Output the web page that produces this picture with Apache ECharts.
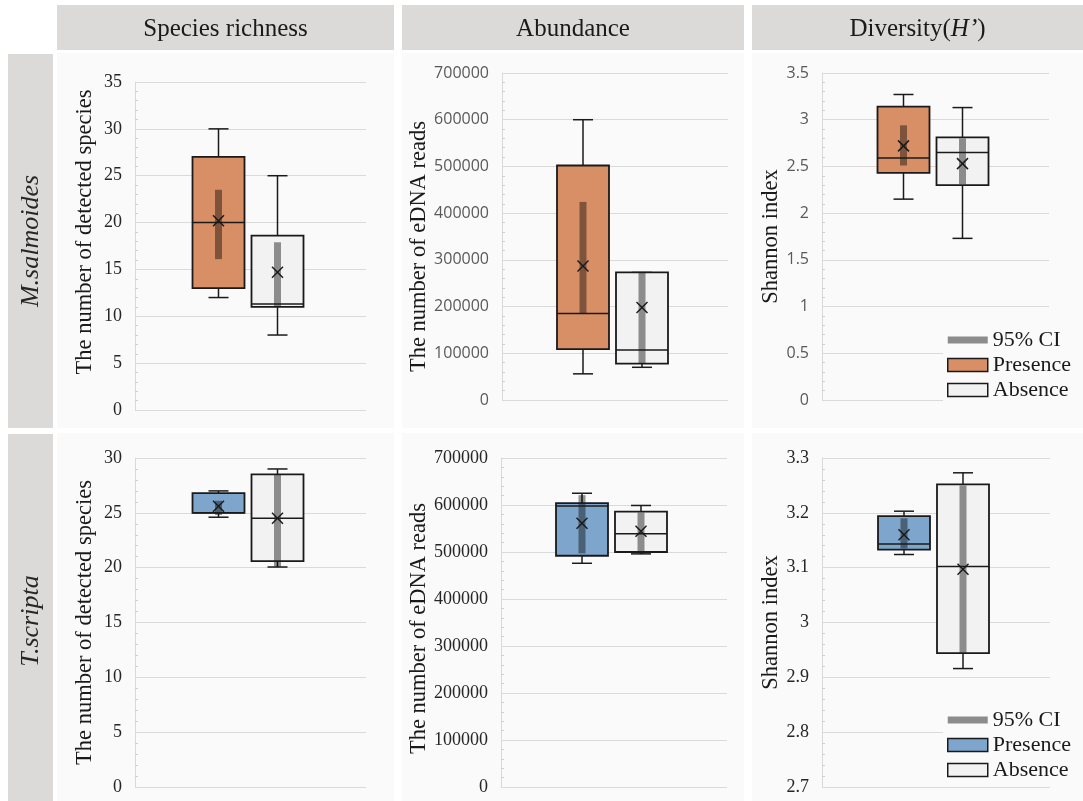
<!DOCTYPE html>
<html><head><meta charset="utf-8">
<script src="https://cdn.jsdelivr.net/npm/echarts@6/dist/echarts.min.js"></script>
<style>html,body{margin:0;padding:0;background:#fff}#c{width:1083px;height:801px}</style>
</head><body><div id="c"></div><script>
// ---------- data ----------
const columnTitles = ['Species richness', 'Abundance', 'Diversity('];
const rowTitles = ['M.salmoides', 'T.scripta'];
const groupNames = ['Presence', 'Absence'];
const ciName = '95% CI';
const yAxisNames = ['The number of detected species', 'The number of eDNA reads', 'Shannon index'];

// box statistics: [min, Q1, median, Q3, max]
const msRichnessPresence = [12, 13, 20, 27, 30];
const msRichnessAbsence  = [8, 11, 11.3, 18.6, 25];
const msRichnessMean = [20.2, 14.7];
const msRichnessCI   = [[16.1, 23.5], [11.1, 17.9]];

const msAbundancePresence = [56000, 109000, 185000, 502000, 600000];
const msAbundanceAbsence  = [70000, 78000, 107000, 273000, 273000];
const msAbundanceMean = [287000, 198000];
const msAbundanceCI   = [[185000, 424000], [78000, 273000]];

const msDiversityPresence = [2.15, 2.43, 2.59, 3.14, 3.27];
const msDiversityAbsence  = [1.73, 2.30, 2.65, 2.81, 3.13];
const msDiversityMean = [2.72, 2.53];
const msDiversityCI   = [[2.51, 2.94], [2.31, 2.80]];

const tsRichnessPresence = [24.6, 25, 25, 26.8, 27];
const tsRichnessAbsence  = [20.06, 20.6, 24.5, 28.5, 29.0];
const tsRichnessMean = [25.6, 24.5];
const tsRichnessCI   = [[24.8, 26.1], [20.1, 28.5]];

const tsAbundancePresence = [476000, 492000, 598000, 604000, 625000];
const tsAbundanceAbsence  = [496000, 500000, 539000, 586000, 599000];
const tsAbundanceMean = [561000, 544000];
const tsAbundanceCI   = [[497000, 621000], [497000, 584000]];

const tsDiversityPresence = [3.124, 3.133, 3.143, 3.194, 3.203];
const tsDiversityAbsence  = [2.916, 2.944, 3.102, 3.252, 3.273];
const tsDiversityMean = [3.160, 3.097];
const tsDiversityCI   = [[3.135, 3.19], [2.945, 3.25]];

// axis ranges / tick steps per panel (row-major)
const yMins      = [0, 0, 0, 0, 0, 2.7];
const yMaxs      = [35, 700000, 3.5, 30, 700000, 3.3];
const yIntervals = [5, 100000, 0.5, 5, 100000, 0.1];

// ---------- layout / style ----------
const panelStats = [
  [msRichnessPresence, msRichnessAbsence, msRichnessMean, msRichnessCI],
  [msAbundancePresence, msAbundanceAbsence, msAbundanceMean, msAbundanceCI],
  [msDiversityPresence, msDiversityAbsence, msDiversityMean, msDiversityCI],
  [tsRichnessPresence, tsRichnessAbsence, tsRichnessMean, tsRichnessCI],
  [tsAbundancePresence, tsAbundanceAbsence, tsAbundanceMean, tsAbundanceCI],
  [tsDiversityPresence, tsDiversityAbsence, tsDiversityMean, tsDiversityCI]
];
const grids = [
  {left: 135, top: 82, width: 231, height: 328},
  {left: 502, top: 73, width: 226, height: 327},
  {left: 822, top: 73, width: 227, height: 327},
  {left: 135, top: 458, width: 231, height: 329},
  {left: 501, top: 458, width: 226, height: 329},
  {left: 822, top: 458, width: 228, height: 329}
];
const presenceColors = ['#D98F66', '#7EA6CC'];
const absenceColor = '#F2F2F2';
const ink = '#1a1a1a';
const serif = '"Liberation Serif", "Times New Roman", serif';
const sans = '"Open Sans", "Noto Sans", sans-serif';
const boxOffsets = [-32, 27];
const labelFonts = [serif, sans, sans, serif, serif, serif];
const labelColors = ['#262626', '#595959', '#595959', '#262626', '#262626', '#262626'];
const labelSizes = [18, 16, 16, 18, 18, 18];
const namePads = [[0,0,0,28], [0,20,0,0], [0,0,0,0], [0,0,0,0], [0,12,0,0], [0,0,0,0]];

function renderBox(g) {
  return function (params, api) {
    const cat = api.value(0);
    const cx = api.coord([cat, api.value(1)])[0] + boxOffsets[g];
    const y = i => api.coord([cat, api.value(i)])[1];
    const yMin = y(1), yQ1 = y(2), yMed = y(3), yQ3 = y(4), yMax = y(5), yMean = y(6), yCiLo = y(7), yCiHi = y(8);
    const hw = 26, cap = 10, ms = 5.5, ciw = 3.5;
    const fill = api.visual('color');
    const ln = {stroke: ink, lineWidth: 1.5};
    const L = (x1, y1, x2, y2, st) => ({type: 'line', shape: {x1, y1, x2, y2}, style: st || ln});
    const children = [
      L(cx, yMax, cx, yQ3), L(cx - cap, yMax, cx + cap, yMax),
      L(cx, yQ1, cx, yMin), L(cx - cap, yMin, cx + cap, yMin),
      {type: 'rect', shape: {x: cx - hw, y: yQ3, width: 2 * hw, height: yQ1 - yQ3}, style: {fill: fill}},
      {type: 'rect', shape: {x: cx - ciw, y: yCiHi, width: 2 * ciw, height: yCiLo - yCiHi}, style: {fill: 'rgba(0,0,0,0.42)'}},
      L(cx - hw, yMed, cx + hw, yMed),
      {type: 'rect', shape: {x: cx - hw, y: yQ3, width: 2 * hw, height: yQ1 - yQ3}, style: {fill: 'none', stroke: ink, lineWidth: 1.8}},
      L(cx - ms, yMean - ms, cx + ms, yMean + ms), L(cx - ms, yMean + ms, cx + ms, yMean - ms)
    ];
    return {type: 'group', children};
  };
}

const xAxes = [], yAxes = [], series = [];
panelStats.forEach((ps, p) => {
  const row = p < 3 ? 0 : 1;
  xAxes.push({type: 'category', gridIndex: p, data: [''], show: false, boundaryGap: true});
  yAxes.push({
    type: 'value', gridIndex: p, min: yMins[p], max: yMaxs[p], interval: yIntervals[p],
    name: yAxisNames[p % 3], nameLocation: 'middle', nameGap: 38, nameRotate: 90,
    nameTextStyle: {fontFamily: serif, fontSize: 22.5, color: ink, padding: namePads[p]},
    axisLine: {show: true, lineStyle: {color: '#d9d9d9', width: 1}},
    axisTick: {show: false, inside: true},
    minorTick: {show: true, splitNumber: 5, length: 3, lineStyle: {color: '#cfcfcf', width: 1}},
    splitLine: {show: true, lineStyle: {color: '#dadada', width: 1}},
    axisLabel: {fontFamily: labelFonts[p], fontSize: labelSizes[p], color: labelColors[p], margin: 13,
      formatter: v => String(+(+v).toFixed(6))}
  });
  [0, 1].forEach(g => {
    const st = ps[g];
    series.push({
      type: 'custom', name: groupNames[g], xAxisIndex: p, yAxisIndex: p,
      itemStyle: {color: g === 0 ? presenceColors[row] : absenceColor},
      renderItem: renderBox(g),
      encode: {x: 0, y: [1, 2, 3, 4, 5]},
      data: [[0, st[0], st[1], st[2], st[3], st[4], ps[2][g], ps[3][g][0], ps[3][g][1]]],
      silent: true
    });
  });
});
series.push({type: 'line', name: ciName, xAxisIndex: 0, yAxisIndex: 0, data: [], symbol: 'none',
  lineStyle: {color: '#8c8c8c', width: 7}, itemStyle: {color: '#8c8c8c'}});

function legendFor(row, top) {
  return {
    orient: 'vertical', left: 943, top: top, itemWidth: 40, itemHeight: 13, itemGap: 3,
    backgroundColor: '#fafafa', padding: [3, 6, 3, 4], selectedMode: false, symbolKeepAspect: true,
    textStyle: {fontFamily: serif, fontSize: 22, color: ink, lineHeight: 21},
    data: [
      {name: ciName, icon: 'path://M0,0H40V7H0Z', itemStyle: {color: '#8c8c8c', borderWidth: 0}},
      {name: groupNames[0], icon: 'rect', itemStyle: {color: presenceColors[row], borderColor: ink, borderWidth: 1.5}},
      {name: groupNames[1], icon: 'rect', itemStyle: {color: absenceColor, borderColor: ink, borderWidth: 1.5}}
    ]
  };
}

const hdrFill = '#dbdad8';
const panelFill = '#fafafa';
const colX = [[57, 394], [402, 744], [752, 1083]];
const rowY = [[53, 428], [433, 801]];
const graphic = [];
colX.forEach(c => rowY.forEach(r => graphic.push({type: 'rect', z: -10, shape: {x: c[0], y: r[0], width: c[1] - c[0], height: r[1] - r[0]}, style: {fill: panelFill}})));
colX.forEach((c, i) => {
  graphic.push({type: 'rect', z: -9, shape: {x: c[0], y: 5, width: c[1] - c[0], height: 45}, style: {fill: hdrFill}});
  graphic.push({type: 'text', z: -8, x: (c[0] + c[1]) / 2, y: 29,
    style: {text: i === 2 ? columnTitles[i] + '{i|H’}' + ')' : columnTitles[i],
      rich: {i: {fontStyle: 'italic', fontFamily: serif, fontSize: 25, fill: ink}},
      fontFamily: serif, fontSize: 25, fill: ink, align: 'center', verticalAlign: 'middle'}});
});
rowY.forEach((r, i) => {
  graphic.push({type: 'rect', z: -9, shape: {x: 8, y: r[0] + 1, width: 45, height: r[1] - r[0] - 1}, style: {fill: hdrFill}});
  graphic.push({type: 'text', z: -8, x: 31, y: i === 0 ? 241 : 621, rotation: Math.PI / 2,
    style: {text: rowTitles[i], fontFamily: serif, fontStyle: 'italic', fontSize: 26, fill: '#262626', align: 'center', verticalAlign: 'middle'}});
});

const chart = echarts.init(document.getElementById('c'), null, {renderer: 'canvas'});
chart.setOption({
  backgroundColor: '#ffffff',
  animation: false,
  grid: grids,
  xAxis: xAxes,
  yAxis: yAxes,
  legend: [legendFor(0, 326), legendFor(1, 706)],
  graphic: graphic,
  series: series
});
</script></body></html>
